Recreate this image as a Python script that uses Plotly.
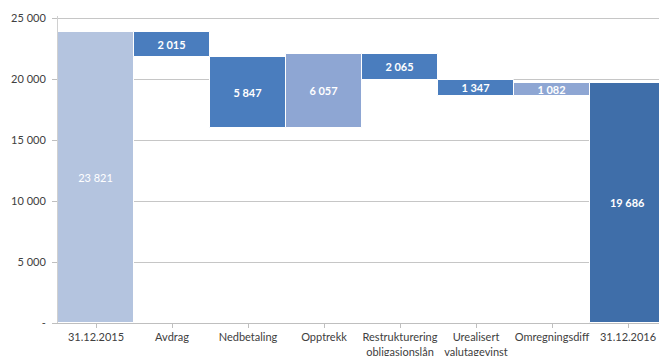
import plotly.graph_objects as go

categories = ["31.12.2015", "Avdrag", "Nedbetaling", "Opptrekk",
              "Restrukturering<br>obligasjonslån", "Urealisert<br>valutagevinst",
              "Omregningsdiff", "31.12.2016"]
# change per step (start and end are totals)
changes = [23821, -2015, -5847, 6057, -2065, -1347, 1082, 19686]
kinds = ["total", "step", "step", "step", "step", "step", "step", "total"]
y_ticks = [0, 5000, 10000, 15000, 20000, 25000]
y_tick_labels = ["-", "5 000", "10 000", "15 000", "20 000", "25 000"]

colors_map = {"start": "#b4c4df", "down": "#4a7dbe", "up": "#8ea6d3", "end": "#3f6ea9"}

bases, heights, colors, texts = [], [], [], []
level = 0
for i, (v, k) in enumerate(zip(changes, kinds)):
    if k == "total":
        bases.append(0)
        heights.append(v)
        level = v
        colors.append(colors_map["start"] if i == 0 else colors_map["end"])
    else:
        new = level + v
        bases.append(min(level, new))
        heights.append(abs(v))
        colors.append(colors_map["down"] if v < 0 else colors_map["up"])
        level = new
    s = f"{abs(v):,}".replace(",", " ")
    texts.append(s if i == 0 else f"<b>{s}</b>")

fig = go.Figure(go.Bar(
    x=list(range(len(categories))), y=heights, base=bases,
    marker=dict(color=colors, line=dict(color="white", width=1)),
    text=texts, textposition="inside", insidetextanchor="middle",
    textfont=dict(color="white", size=11, family="Lato, 'Open Sans', sans-serif"),
    textangle=0, constraintext="none", hoverinfo="skip",
))

px_per_cat = 76
plot_w = 659 - 58
fig.update_layout(
    width=659, height=356,
    margin=dict(l=58, r=0, t=16, b=33),
    paper_bgcolor="white", plot_bgcolor="white",
    bargap=0, showlegend=False,
    font=dict(family="Lato, 'Open Sans', sans-serif", size=11, color="#404040"),
    xaxis=dict(
        range=[-0.5, -0.5 + plot_w / px_per_cat],
        tickmode="array", tickvals=list(range(len(categories))), ticktext=categories,
        showline=True, linecolor="#bfbfbf", linewidth=1,
        ticks="outside", ticklen=4, tickcolor="#bfbfbf", tickson="boundaries",
        showgrid=False, tickangle=0, automargin=False,
    ),
    yaxis=dict(
        range=[0, 307 / 0.0122],
        tickmode="array", tickvals=y_ticks, ticktext=y_tick_labels,
        showgrid=True, gridcolor="#c6c6c6", gridwidth=1,
        showline=True, linecolor="#d0d0d0", linewidth=1,
        ticks="outside", ticklen=5, tickcolor="#bfbfbf",
        ticklabelstandoff=4,
        zeroline=False, automargin=False,
    ),
)
fig.write_html("out.html")
